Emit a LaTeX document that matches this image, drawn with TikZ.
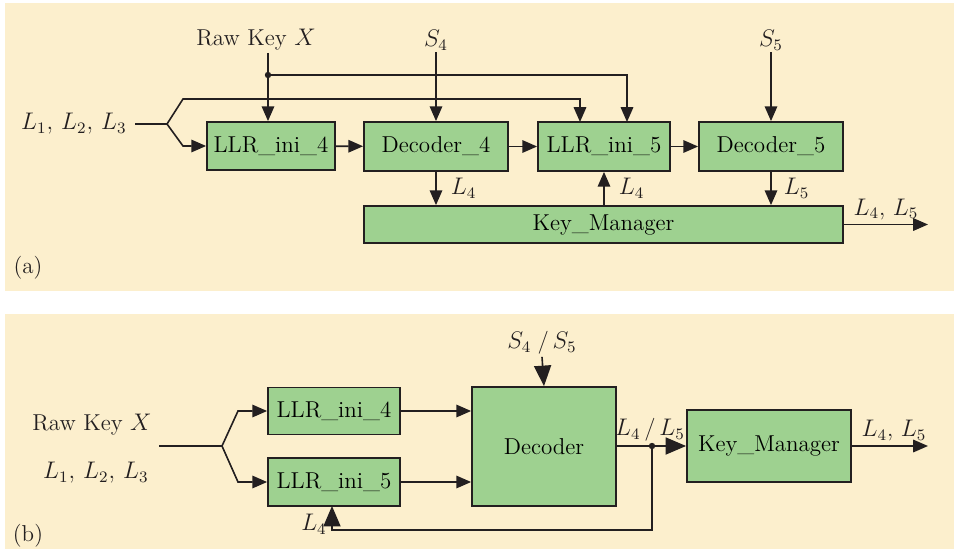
\documentclass[tikz,border=0pt]{standalone}
\usepackage{amsmath,amssymb}
\usepackage{xcolor}
\usepackage{tikz}
\usetikzlibrary{arrows.meta,positioning,calc}
\definecolor{paper}{HTML}{FCEFCD}
\definecolor{leaf}{HTML}{9ED190}
\definecolor{ink}{HTML}{231F20}

\begin{document}
\begin{tikzpicture}[x=0.5pt,y=-0.5pt,
 font=\fontsize{11.5}{13}\selectfont,
 blk/.style={draw=ink,fill=leaf,line width=0.9pt,inner sep=0pt,align=center},
 a/.style={-{Triangle[length=2.6mm,width=2.2mm]},draw=ink,line width=0.8pt},
 ab/.style={-{Triangle[length=3.6mm,width=3mm]},draw=ink,line width=0.8pt},
 l/.style={draw=ink,line width=0.8pt},
 lab/.style={inner sep=1pt,text=ink}
]
\useasboundingbox (0,0) rectangle (954,552);
\fill[paper] (5,3) rectangle (954,291);
\fill[paper] (5,314) rectangle (954,549);

% (a)
\node[lab] (rawa) at (256,40) {Raw Key $X$};
\node[lab] (s4) at (436,40) {$S_4$};
\node[lab] (s5) at (771,40) {$S_5$};
\node[lab,anchor=east] (la) at (129,124) {$L_1,\, L_2,\, L_3$};
\node[blk,minimum width=64pt,minimum height=24pt] (llr4) at (271,146) {LLR\_ini\_4};
\node[blk,minimum width=72pt,minimum height=24.5pt] (dec4) at (436,146.5) {Decoder\_4};
\node[blk,minimum width=66pt,minimum height=24.5pt] (llr5) at (604,146.5) {LLR\_ini\_5};
\node[blk,minimum width=72pt,minimum height=24.5pt] (dec5) at (771,146.5) {Decoder\_5};
\node[blk,minimum width=239.5pt,minimum height=18.5pt] (kma) at (603.5,224.5) {Key\_Manager};
\coordinate (dot) at (268,75);
\coordinate (fork) at (167,124);
\coordinate (outa) at (928,224.5);

\draw[l] (rawa.south -| dot) -- (dot);
\draw[a] (dot) -- (dot |- llr4.north);
\draw[a] (dot) -- (627,75) -- (627,122);
\fill[ink] (dot) circle (3.2);
\draw[l] (135,124) -- (fork);
\draw[a] (fork) -- (183,99) -- (580,99) -- (580,122);
\draw[a] (fork) -- (183,146) -- (llr4.west);
\draw[a] (s4.south) -- (dec4.north);
\draw[a] (s5.south) -- (dec5.north);
\draw[a] (llr4) -- (dec4);
\draw[a] (dec4) -- (llr5);
\draw[a] (llr5) -- (dec5);
\draw[a] (dec4.south) -- (dec4.south |- kma.north) node[lab,midway,right=6pt] {$L_4$};
\draw[a] (kma.north -| llr5.south) -- (llr5.south) node[lab,midway,right=6pt] {$L_4$};
\draw[a] (dec5.south) -- (dec5.south |- kma.north) node[lab,midway,right=5pt] {$L_5$};
\draw[a] (kma.east) -- (outa) node[lab,midway,above=1pt,xshift=0pt] {$L_4$, $L_5$};
\node[lab] (cap_a) at (28,268) {(a)};

% (b)
\node[lab] (rawb) at (92,425) {Raw Key $X$};
\node[lab,anchor=east] (lb) at (151,473) {$L_1,\, L_2,\, L_3$};
\node[blk,minimum width=66pt,minimum height=23.5pt] (llr4b) at (334,411) {LLR\_ini\_4};
\node[blk,minimum width=66pt,minimum height=24pt] (llr5b) at (334,482) {LLR\_ini\_5};
\node[blk,minimum width=72pt,minimum height=59.5pt] (dec) at (544,446.5) {Decoder};
\node[blk,minimum width=82pt,minimum height=36pt] (kmb) at (769,446) {Key\_Manager};
\node[lab] (s45) at (542,343) {$S_4$\;/\,$S_5$};
\coordinate (forkb) at (222,446);
\coordinate (dotb) at (652,446);
\coordinate (outb) at (928,446);

\draw[l] (159,446) -- (forkb);
\draw[a] (forkb) -- (238,411) -- (llr4b.west);
\draw[a] (forkb) -- (238,482) -- (llr5b.west);
\draw[a] (llr4b.east) -- (llr4b.east -| dec.west);
\draw[a] (llr5b.east) -- (llr5b.east -| dec.west);
\draw[ab] (s45.south) -- (dec.north);
\draw[l] (dec.east |- dotb) -- (dotb);
\draw[ab] (dotb) -- (kmb.west |- dotb);
\fill[ink] (dotb) circle (3.2);
\node[lab] (l45) at (650,430) {$L_4$\,/\,$L_5$};
\draw[ab] (dotb) -- (652,530) -- (332,530) -- (332,506);
\node[lab] (l4b) at (314,524) {$L_4$};
\draw[a] (kmb.east) -- (outb) node[lab,midway,above=1pt,xshift=2pt] {$L_4$, $L_5$};
\node[lab] (cap_b) at (28,536) {(b)};
\end{tikzpicture}
\end{document}
